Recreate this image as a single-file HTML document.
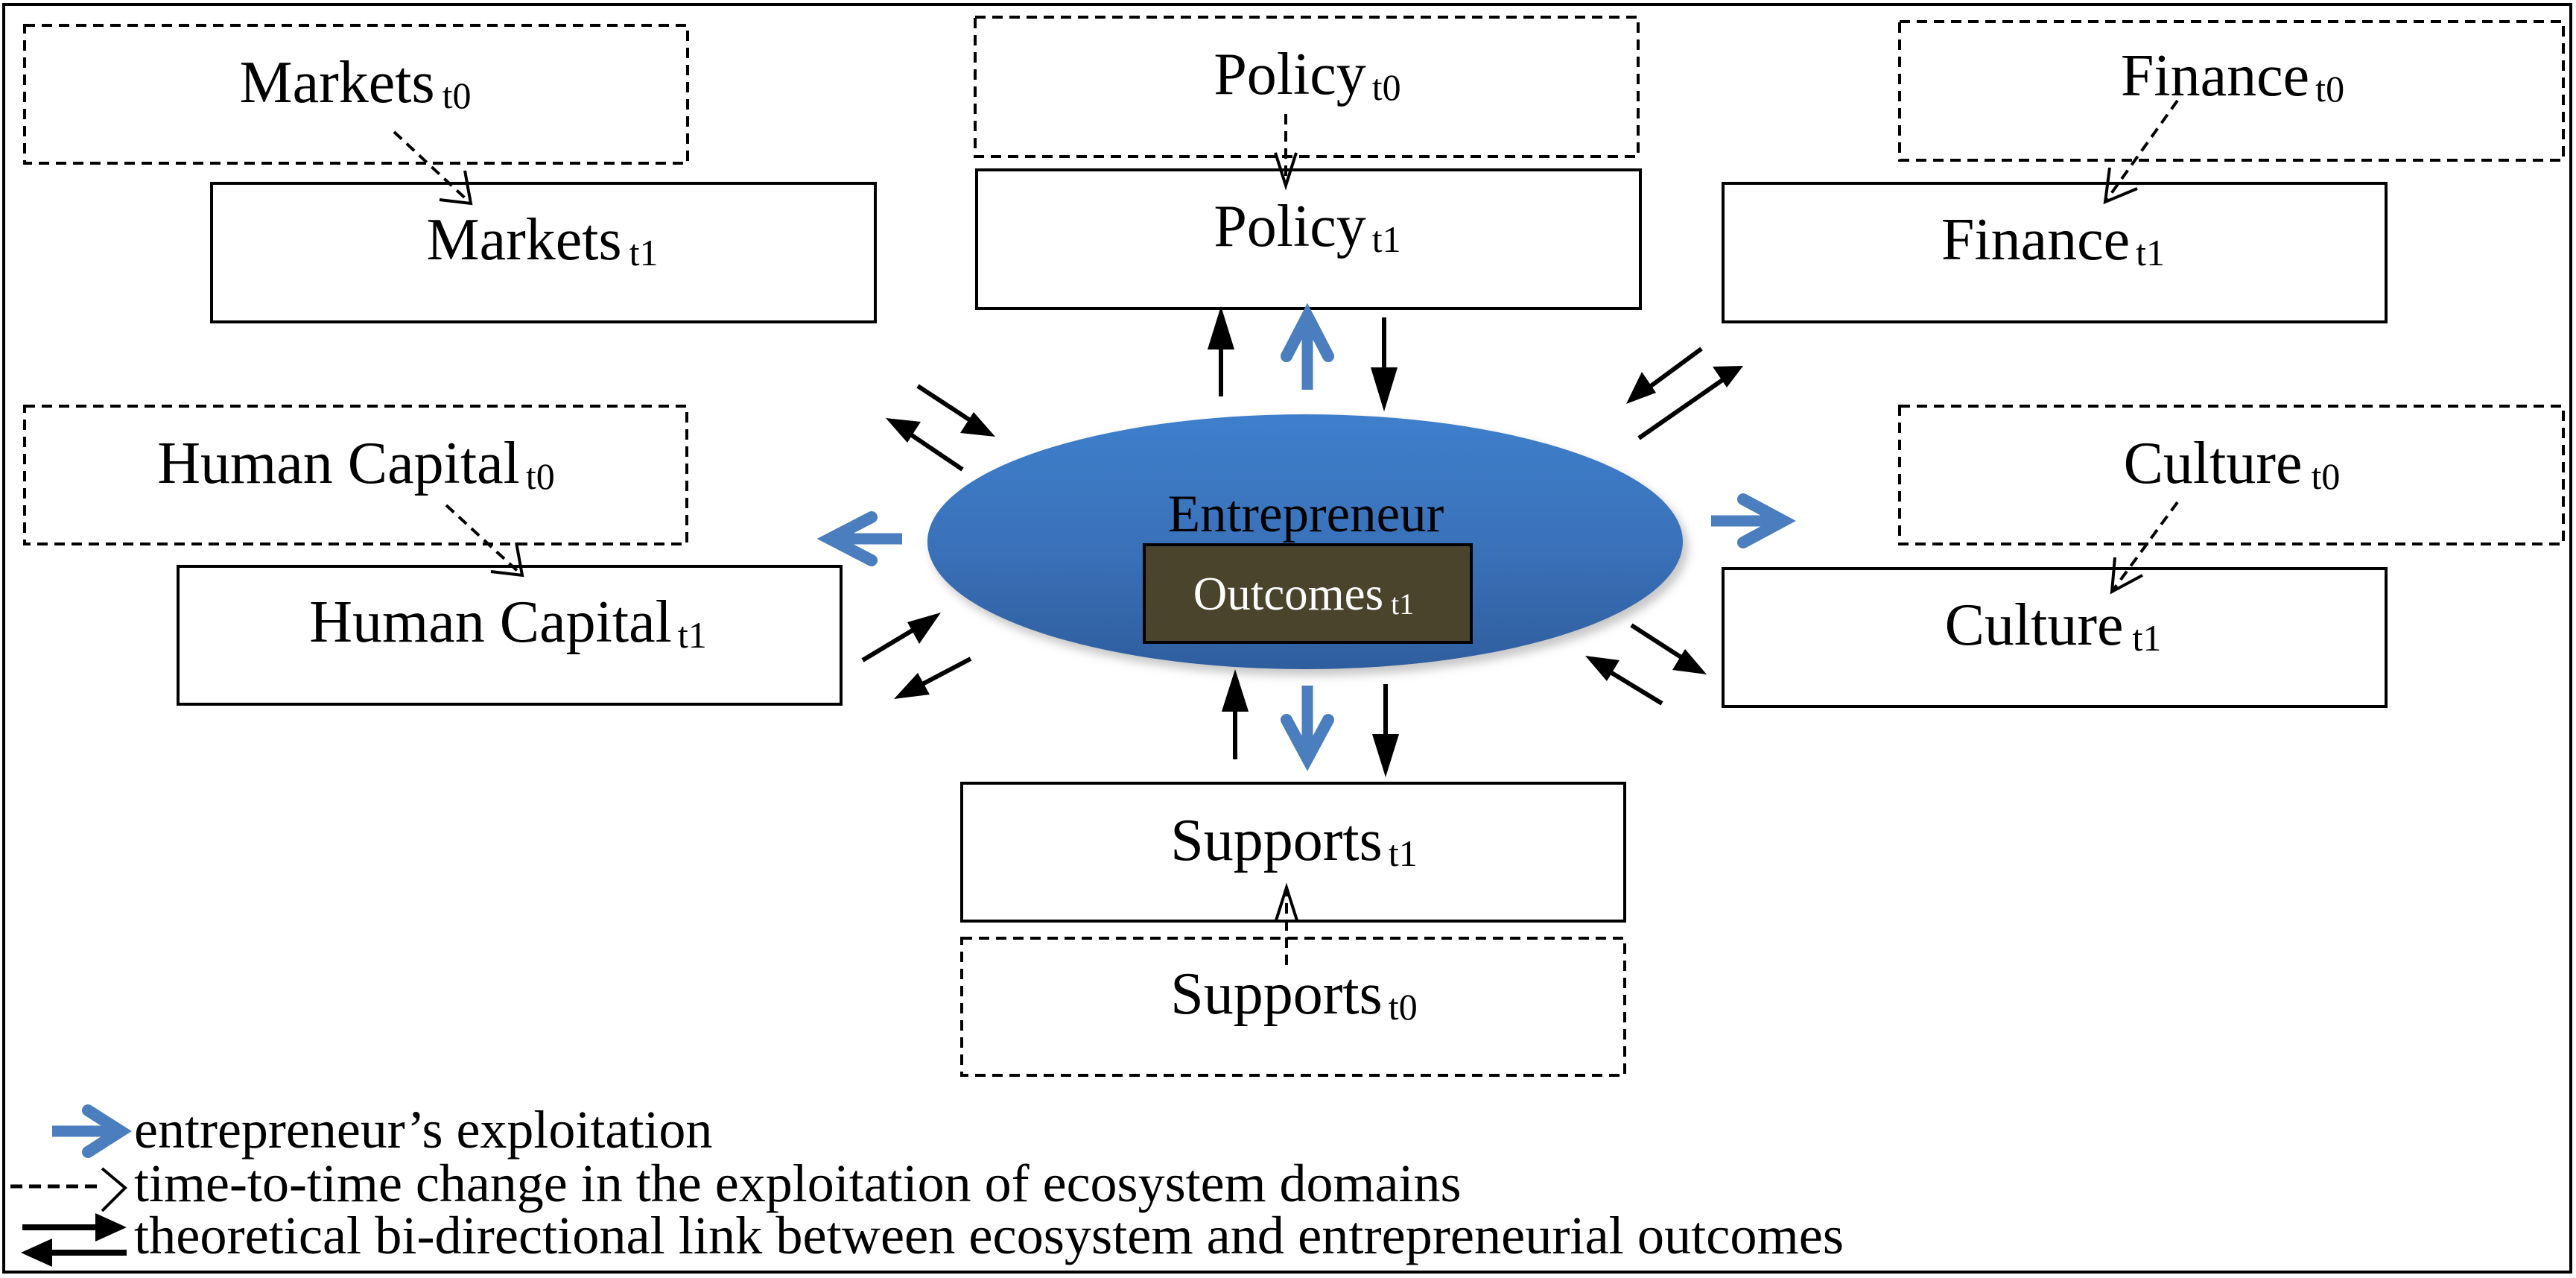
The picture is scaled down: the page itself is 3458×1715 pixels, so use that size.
<!DOCTYPE html>
<html><head><meta charset="utf-8"><style>
html,body{margin:0;padding:0;background:#fff}
svg{display:block}
text{font-family:"Liberation Serif",serif}
</style></head><body>
<svg width="3458" height="1715" viewBox="0 0 3458 1715" xmlns="http://www.w3.org/2000/svg">
<defs>
<linearGradient id="eg" x1="0" y1="0" x2="0" y2="1">
<stop offset="0" stop-color="#3f7fcc"/><stop offset="0.5" stop-color="#3a72ba"/><stop offset="1" stop-color="#2f5e9e"/>
</linearGradient>
<marker id="bh" markerWidth="10" markerHeight="10" refX="9" refY="5" orient="auto" markerUnits="userSpaceOnUse" viewBox="0 0 10 10">
</marker>
<filter id="sh" x="-20%" y="-20%" width="140%" height="140%"><feGaussianBlur stdDeviation="6"/></filter>
</defs>
<rect x="0" y="0" width="3458" height="1715" fill="#fff"/>
<rect x="5" y="6" width="3446" height="1701" fill="none" stroke="#000" stroke-width="4"/>

<!-- dashed t0 boxes -->
<g fill="none" stroke="#000" stroke-width="4" stroke-dasharray="14,9">
<rect x="33" y="34" width="890" height="185"/>
<rect x="1309" y="23" width="890" height="187"/>
<rect x="2550" y="29" width="891" height="186"/>
<rect x="33" y="545" width="889" height="185"/>
<rect x="2550" y="545" width="891" height="185"/>
<rect x="1291" y="1259" width="890" height="184"/>
</g>
<!-- solid t1 boxes -->
<g fill="none" stroke="#000" stroke-width="4">
<rect x="284" y="246" width="891" height="186"/>
<rect x="1311" y="228" width="891" height="186"/>
<rect x="2313" y="246" width="890" height="186"/>
<rect x="239" y="760" width="890" height="185"/>
<rect x="2313" y="763" width="890" height="185"/>
<rect x="1291" y="1051" width="890" height="185"/>
</g>

<!-- ellipse -->
<ellipse cx="1758" cy="735" rx="508" ry="172" fill="#c8c8c8" filter="url(#sh)"/>
<ellipse cx="1752" cy="727" rx="507" ry="171" fill="url(#eg)"/>
<rect x="1536" y="731" width="439" height="131" fill="#4a442c" stroke="#000" stroke-width="4"/>
<text x="1753" y="713" font-size="71" text-anchor="middle">Entrepreneur</text>
<text x="1750" y="818" font-size="63" text-anchor="middle" fill="#fff">Outcomes<tspan font-size="40" dx="10" dy="6">t1</tspan></text>

<!-- box labels -->
<g font-size="80" text-anchor="middle">
<text x="477" y="137">Markets<tspan font-size="50" dx="10" dy="8">t0</tspan></text>
<text x="728" y="348">Markets<tspan font-size="50" dx="10" dy="8">t1</tspan></text>
<text x="1755" y="126">Policy<tspan font-size="50" dx="8" dy="8">t0</tspan></text>
<text x="1755" y="330">Policy<tspan font-size="50" dx="8" dy="8">t1</tspan></text>
<text x="2997" y="128">Finance<tspan font-size="50" dx="8" dy="8">t0</tspan></text>
<text x="2756" y="348">Finance<tspan font-size="50" dx="8" dy="8">t1</tspan></text>
<text x="478" y="648">Human Capital<tspan font-size="50" dx="8" dy="8">t0</tspan></text>
<text x="682" y="861">Human Capital<tspan font-size="50" dx="8" dy="8">t1</tspan></text>
<text x="2996" y="648">Culture<tspan font-size="50" dx="12" dy="8">t0</tspan></text>
<text x="2756" y="865">Culture<tspan font-size="50" dx="12" dy="8">t1</tspan></text>
<text x="1737" y="1154">Supports<tspan font-size="50" dx="8" dy="8">t1</tspan></text>
<text x="1737" y="1360">Supports<tspan font-size="50" dx="8" dy="8">t0</tspan></text>
</g>

<!-- dashed change arrows -->
<g fill="none" stroke="#000" stroke-width="4">
<g stroke-dasharray="14,9">
<line x1="529" y1="177" x2="632" y2="273"/>
<line x1="1726" y1="153" x2="1726" y2="249"/>
<line x1="2923" y1="135" x2="2826" y2="271"/>
<line x1="599" y1="678" x2="701" y2="772"/>
<line x1="2923" y1="674" x2="2835" y2="794"/>
<line x1="1727" y1="1295" x2="1727" y2="1191"/>
</g>
<polyline points="590,268 632,273 624,229"/>
<polyline points="1712,205 1726,249 1740,205"/>
<polyline points="2832,225 2826,271 2869,253"/>
<polyline points="659,767 701,772 693,728"/>
<polyline points="2839,748 2835,794 2876,772"/>
<polyline points="1713,1235 1727,1191 1741,1235"/>
</g>

<!-- black bidirectional arrows -->
<g stroke="#000" stroke-width="6" fill="#000">
<g id="arrows">
<line x1="1639" y1="532" x2="1639" y2="460"/><polygon points="1639,421 1625,466 1653,466"/>
<line x1="1858" y1="426" x2="1858" y2="500"/><polygon points="1858,542 1844,496 1872,496" />
<line x1="1658" y1="1019" x2="1658" y2="945"/><polygon points="1658,908 1644,952 1672,952"/>
<line x1="1860" y1="918" x2="1860" y2="995"/><polygon points="1860,1033 1846,988 1874,988"/>
</g>
</g>
<g stroke="#000" stroke-width="6" fill="none">
<line x1="1232" y1="518" x2="1310" y2="569"/>
<line x1="1292" y1="630" x2="1215" y2="578"/>
<line x1="1158" y1="886" x2="1238" y2="838"/>
<line x1="1303" y1="884" x2="1225" y2="925"/>
<line x1="2284" y1="468" x2="2208" y2="524"/>
<line x1="2200" y1="588" x2="2315" y2="508"/>
<line x1="2190" y1="839" x2="2266" y2="888"/>
<line x1="2231" y1="944" x2="2152" y2="896"/>
</g>
<g fill="#000">
<polygon points="1336,586 1289,581 1307,553"/>
<polygon points="1189,561 1236,566 1218,594"/>
<polygon points="1263,822 1218,835 1234,864"/>
<polygon points="1200,938 1232,903 1248,932"/>
<polygon points="2183,542 2204,499 2223,527"/>
<polygon points="2340,491 2299,492 2318,520"/>
<polygon points="2291,905 2262,871 2245,899"/>
<polygon points="2128,880 2157,914 2174,886"/>
</g>

<!-- blue exploitation arrows -->
<g stroke="#4a7ebf" fill="none" stroke-width="16">
<line x1="1211" y1="723" x2="1122" y2="723" stroke-width="15"/>
<polyline points="1170,694 1114,723 1170,752" stroke-linecap="round" stroke-linejoin="miter"/>
<line x1="2297" y1="699" x2="2385" y2="699" stroke-width="15"/>
<polyline points="2340,670 2394,699 2340,728" stroke-linecap="round"/>
<line x1="1755" y1="523" x2="1755" y2="432" stroke-width="15"/>
<polyline points="1727,478 1755,424 1783,478" stroke-linecap="round"/>
<line x1="1755" y1="920" x2="1755" y2="1010" stroke-width="15"/>
<polyline points="1727,966 1755,1018 1783,966" stroke-linecap="round"/>
</g>

<!-- legend -->
<g stroke="#4a7ebf" fill="none" stroke-width="16">
<line x1="70" y1="1518" x2="155" y2="1518" stroke-width="15"/>
<polyline points="118,1490 162,1518 118,1546" stroke-linecap="round"/>
</g>
<g stroke="#000" fill="none" stroke-width="5">
<line x1="14" y1="1592" x2="130" y2="1592" stroke-dasharray="16,9"/>
<polyline points="137,1568 168,1594 137,1625" stroke-width="4"/>
<line x1="30" y1="1647" x2="135" y2="1647" stroke-width="8"/>
<line x1="70" y1="1681" x2="170" y2="1681" stroke-width="8"/>
</g>
<polygon points="170,1647 128,1628 128,1666" fill="#000"/>
<polygon points="28,1681 70,1662 70,1700" fill="#000"/>
<g font-size="72">
<text x="180" y="1540">entrepreneur’s exploitation</text>
<text x="180" y="1612">time-to-time change in the exploitation of ecosystem domains</text>
<text x="180" y="1682" textLength="2295" lengthAdjust="spacingAndGlyphs">theoretical bi-directional link between ecosystem and entrepreneurial outcomes</text>
</g>
</svg>
</body></html>
